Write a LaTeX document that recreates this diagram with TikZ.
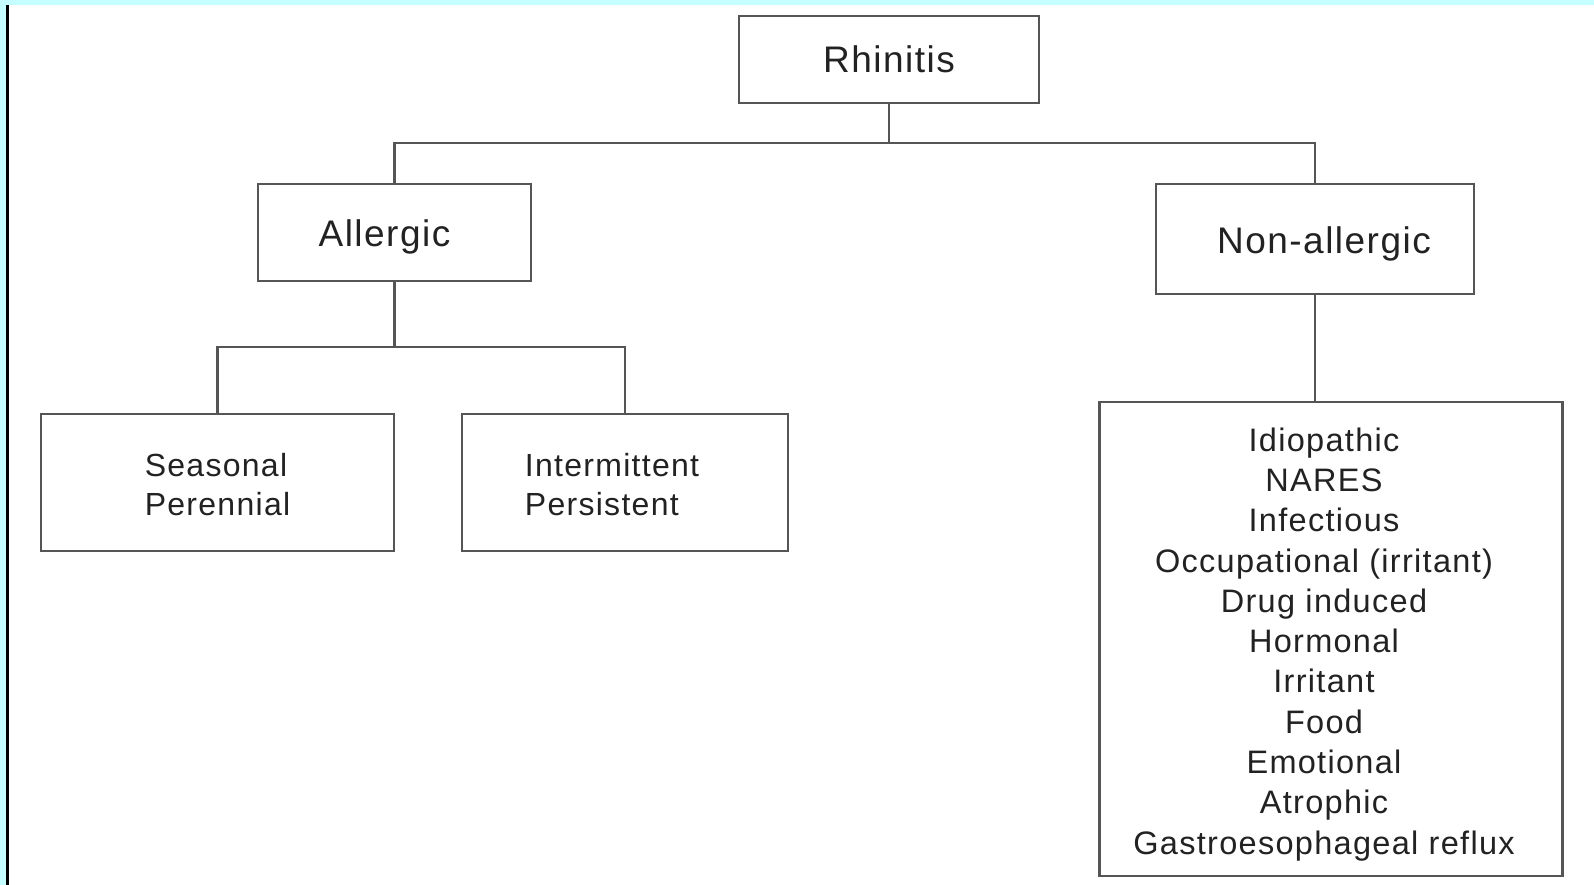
\documentclass[tikz,border=0pt]{standalone}
\usepackage{fontspec}
\setmainfont{Liberation Sans}[LetterSpace=4.0]
\newcommand{\ls}{\hspace*{-14pt}}
\begin{document}
\begin{tikzpicture}[x=1pt,y=-1pt,
  box/.style={draw=linegray, line width=2.6pt, rectangle, inner sep=0pt, text=textdark, anchor=center},
  conn/.style={draw=linegray, line width=2.6pt},
  bigtext/.style={font=\fontsize{37}{44}\selectfont},
  midtext/.style={font=\fontsize{32}{39.5}\selectfont, align=left, text height=66.5pt, text depth=0pt},
  listtext/.style={font=\fontsize{32.5}{40.3}\selectfont, align=center, text height=437pt, text depth=6.8pt}
]
\definecolor{linegray}{HTML}{555555}
\definecolor{textdark}{HTML}{222222}
\definecolor{bgcyan}{HTML}{C6FFFF}
\useasboundingbox (0,0) rectangle (1594,885);
\fill[white] (0,0) rectangle (1594,885);
\fill[bgcyan] (0,0) rectangle (1594,5);
\fill[bgcyan] (0,0) rectangle (6,885);
\fill[black] (6,5) rectangle (9,885);

\node[box, bigtext, minimum width=300, minimum height=87] (R) at (889,59.5) {Rhinitis};
\node[box, bigtext, minimum width=273, minimum height=97, text height=35pt, text depth=7.8pt] (A) at (394.5,232.5) {\hspace*{-20pt}Allergic};
\node[box, bigtext, minimum width=318, minimum height=110, text height=37pt, text depth=7.8pt] (N) at (1315,239) {\hspace*{18pt}Non-allergic};
\node[box, midtext, minimum width=353, minimum height=137] (S) at (217.5,482.5) {Seasonal\\Perennial};
\node[box, midtext, minimum width=326, minimum height=137] (I) at (625,482.5) {\hspace*{-26pt}Intermittent\\\hspace*{-26pt}Persistent};
\node[box, listtext, minimum width=463, minimum height=474] (L) at (1331,639) {\ls Idiopathic\\\ls NARES\\\ls Infectious\\\ls Occupational (irritant)\\\ls Drug induced\\\ls Hormonal\\\ls Irritant\\\ls Food\\\ls Emotional\\\ls Atrophic\\\ls Gastroesophageal reflux};

\coordinate (rj) at (889,143);
\coordinate (aj) at (394.5,347);
\draw[conn] (R.south) -- (rj);
\draw[conn] (A.north) |- (rj) -| (N.north);
\draw[conn] (A.south) -- (aj);
\draw[conn] (S.north) |- (aj) -| (I.north);
\draw[conn] (N.south) -- (N.south |- L.north);
\end{tikzpicture}
\end{document}
